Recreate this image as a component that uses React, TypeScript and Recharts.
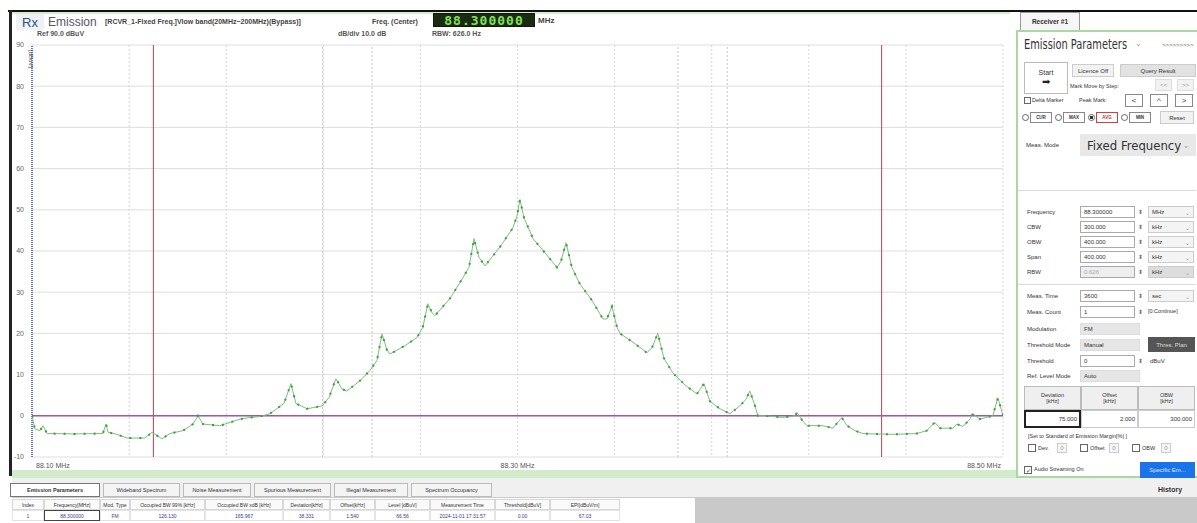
import React from "react";
import {
  LineChart,
  Line,
  XAxis,
  YAxis,
  CartesianGrid,
  ReferenceLine,
} from "recharts";

// trace: frequency [MHz] and level [dBuV]
const freqMHz = [
  88.1, 88.1012, 88.1033, 88.1045, 88.1062, 88.1177, 88.1292, 88.1305, 88.1313, 88.135,
  88.1391, 88.1465, 88.1494, 88.1515, 88.1535, 88.1568, 88.1622, 88.1663, 88.1684, 88.1704,
  88.1774, 88.1816, 88.1857, 88.1898, 88.1939, 88.198, 88.2038, 88.2067, 88.2087, 88.2133,
  88.2195, 88.2224, 88.2252, 88.2277, 88.2297, 88.2351, 88.2392, 88.2421, 88.2442, 88.2462,
  88.2475, 88.2536, 88.2586, 88.261, 88.2631, 88.2648, 88.266, 88.2722, 88.2775, 88.28,
  88.2821, 88.2841, 88.2866, 88.2928, 88.2981, 88.2998, 88.301, 88.3027, 88.3064, 88.3114,
  88.3163, 88.3179, 88.32, 88.3224, 88.3257, 88.3307, 88.3352, 88.3368, 88.3389, 88.341,
  88.3422, 88.3484, 88.3533, 88.3554, 88.3578, 88.3603, 88.364, 88.369, 88.3739, 88.3768,
  88.3793, 88.3834, 88.3875, 88.3916, 88.3941, 88.3957, 88.3978, 88.399, 88.4019, 88.4093,
  88.4143, 88.4151, 88.4172, 88.4192, 88.4258, 88.4299, 88.4336, 88.4357, 88.439, 88.4423,
  88.446, 88.4555, 88.4645, 88.4686, 88.4719, 88.474, 88.4794, 88.481, 88.4835, 88.4864,
  88.4876, 88.4905, 88.4958, 88.4979, 88.5,
];
const levelDbuv = [
  0, -3.2, -3.6, -2.4, -4.3, -4.4, -4.3, -2.0, -4.0, -4.5,
  -5.4, -5.4, -4.0, -4.8, -5.6, -4.3, -3.6, -2.0, 0.0, -2.0,
  -2.4, -1.6, -0.8, -0.4, -0.2, 0.5, 3.0, 7.8, 3.0, 1.7,
  2.4, 4.5, 9.0, 6.5, 6.0, 8.5, 11.0, 13.4, 19.9, 16.0,
  15.0, 17.0, 19.0, 21.5, 27.2, 25.0, 24.3, 28.5, 33.5, 36.0,
  43.0, 38.5, 36.4, 41.0, 45.6, 48.5, 52.5, 48.0, 43.0, 39.5,
  36.0, 37.5, 42.0, 36.0, 32.0, 28.0, 23.5, 23.5, 26.5, 21.5,
  20.0, 17.5, 15.3, 16.5, 20.0, 14.0, 10.4, 7.5, 5.3, 7.8,
  3.5, 1.7, 0.5, 2.4, 4.0, 6.0, 2.5, 0.0, 0.0, -0.4,
  0.0, 0.8, -1.0, -2.4, -2.4, -3.0, -0.4, -2.4, -3.6, -4.3,
  -4.4, -4.5, -4.3, -3.6, -1.6, -3.0, -3.0, -2.0, -2.6, -0.8,
  0.5, -0.8, 0.0, 4.4, 0.0,
];

const gridFreqs = [88.1, 88.14, 88.18, 88.22, 88.26, 88.3, 88.34, 88.38, 88.42, 88.46, 88.5];
const labelFreqs = [88.1, 88.3, 88.5];
const levelTicks = [-10, 0, 10, 20, 30, 40, 50, 60, 70, 80, 90];
const obwLimits = [88.15, 88.45];
const bwMarkers = [88.2197, 88.2401, 88.3661, 88.3864];
const thresholdLevel = 0;

const tabNames = [
  "Emission Parameters",
  "Wideband Spectrum",
  "Noise Measurement",
  "Spurious Measurement",
  "Illegal Measurement",
  "Spectrum Occupancy",
];
const tableHeads = [
  "Index", "Frequency[MHz]", "Mod. Type", "Occupied BW 99% [kHz]", "Occupied BW xdB [kHz]",
  "Deviation[kHz]", "Offset[kHz]", "Level [dBuV]", "Measurement Time", "Threshold[dBuV]", "EPI[dBuV/m]",
];
const tableRow = [
  "1", "88.300000", "FM", "126.130", "165.967", "38.331", "1.540", "66.56",
  "2024-11-01 17:31:57", "0.00", "67.03",
];

const data = freqMHz.map((f, i) => ({ f, level: levelDbuv[i] }));

const ui = "'Liberation Sans', Arial, sans-serif";
const cond = "'DejaVu Sans Condensed', 'Liberation Sans Narrow', sans-serif";

function FreqTick(props: any) {
  const { x, y, payload } = props;
  const v = payload.value;
  if (!labelFreqs.some((l) => Math.abs(l - v) < 1e-6)) return null;
  const anchor = v < 88.2 ? "start" : v > 88.4 ? "end" : "middle";
  const dx = v < 88.2 ? 4 : v > 88.4 ? -2 : 0;
  return (
    <text x={x + dx} y={y + 3} textAnchor={anchor} fontSize={7} fill="#555" fontFamily={ui}>
      {v.toFixed(2)} MHz
    </text>
  );
}

const T = ({ x, y, s = 7, c = "#333", b = false, f = ui, st, children }: any) => (
  <div
    style={{
      position: "absolute", left: x, top: y, fontSize: s, color: c,
      fontWeight: b ? "bold" : "normal", fontFamily: f, whiteSpace: "nowrap", lineHeight: 1, ...st,
    }}
  >
    {children}
  </div>
);

const Box = ({ x, y, w, h, bg = "#fff", bd = "#aaa", children, st }: any) => (
  <div
    style={{
      position: "absolute", left: x, top: y, width: w, height: h, background: bg,
      border: `1px solid ${bd}`, boxSizing: "border-box", fontFamily: ui, fontSize: 6,
      color: "#333", display: "flex", alignItems: "center", justifyContent: "center",
      overflow: "hidden", whiteSpace: "nowrap", ...st,
    }}
  >
    {children}
  </div>
);

function FieldRow({ y, label, value, unit, disabled }: any) {
  return (
    <>
      <T x={1027} y={y - 3} s={6}>{label}</T>
      <Box x={1080} y={y - 6} w={55} h={12} bg={disabled ? "#eee" : "#fff"} st={{ justifyContent: "flex-start", paddingLeft: 3, color: disabled ? "#aaa" : "#333" }}>
        {value}
      </Box>
      <T x={1138} y={y - 3} s={6} c="#777">⬍</T>
      {unit && (
        <Box x={1148} y={y - 6} w={46} h={12} bg={disabled ? "#ddd" : "#f4f4f4"} bd="#ccc" st={{ justifyContent: "space-between", padding: "0 3px" }}>
          <span>{unit}</span><span style={{ color: "#999" }}>⌄</span>
        </Box>
      )}
    </>
  );
}

export default function App() {
  let tx = 10;
  return (
    <div style={{ position: "absolute", left: 0, top: 0, width: 1197, height: 523, overflow: "hidden", background: "#fff", fontFamily: ui }}>
      {/* window frame */}
      <div style={{ position: "absolute", left: 8, top: 10, width: 1189, height: 2, background: "#111" }} />
      <div style={{ position: "absolute", left: 9, top: 10, width: 3, height: 466, background: "#222" }} />
      <div style={{ position: "absolute", left: 12, top: 12, width: 998, height: 2, background: "#d6ecd0" }} />
      <div style={{ position: "absolute", left: 12, top: 470, width: 1185, height: 8, background: "#d2ebcb" }} />

      {/* chart header */}
      <Box x={16} y={14} w={28} h={16} bg="#eef2f4" bd="#eef2f4" st={{ fontSize: 13, color: "#2f4f80" }}>Rx</Box>
      <T x={48} y={16} s={12} c="#556">Emission</T>
      <T x={105} y={18} s={7} b c="#444">[RCVR_1-Fixed Freq.]Vlow band(20MHz~200MHz)(Bypass)]</T>
      <T x={372} y={18} s={7} b c="#444">Freq. (Center)</T>
      <Box x={433} y={13} w={102} h={14} bg="#1b2b12" bd="#0d1a08" st={{ fontSize: 13, fontWeight: "bold", color: "#7ee05a", fontFamily: "'DejaVu Sans Mono', monospace", letterSpacing: 1 }}>
        88.300000
      </Box>
      <T x={538} y={17} s={8} b c="#444">MHz</T>
      <T x={37} y={30} s={7} b c="#555">Ref 90.0 dBuV</T>
      <T x={338} y={30} s={7} b c="#555">dB/div 10.0 dB</T>
      <T x={432} y={30} s={7} b c="#555">RBW: 626.0 Hz</T>

      {/* spectrum */}
      <div style={{ position: "absolute", left: 0, top: 35 }}>
        <LineChart width={1010} height={445} data={data} margin={{ top: 10, right: 7, bottom: 0, left: 10 }}>
          <CartesianGrid horizontal vertical={false} stroke="#dedede" />
          <CartesianGrid horizontal={false} vertical stroke="#d4d4d4" strokeDasharray="2 2" />
          <XAxis
            type="number"
            dataKey="f"
            domain={[88.1, 88.5]}
            ticks={gridFreqs}
            interval={0}
            allowDataOverflow
            tick={<FreqTick />}
            tickLine={false}
            axisLine={false}
            height={23}
          />
          <YAxis
            type="number"
            domain={[-10, 90]}
            ticks={levelTicks}
            interval={0}
            width={22}
            tick={{ fontSize: 7, fill: "#666", fontFamily: ui }}
            tickLine={false}
            axisLine={false}
          />
          {bwMarkers.map((f) => (
            <ReferenceLine key={f} x={f} stroke="#c4c4c4" strokeDasharray="2 2" />
          ))}
          {obwLimits.map((f) => (
            <ReferenceLine key={f} x={f} stroke="#b8404c" strokeWidth={1} />
          ))}
          <ReferenceLine x={88.1} stroke="#3050c8" strokeDasharray="1 1" strokeWidth={1.5} />
          <ReferenceLine y={thresholdLevel} stroke="#9c5aa6" strokeWidth={1.5} />
          <Line type="linear" dataKey="level" stroke="#86b886" strokeWidth={1} dot={false} isAnimationActive={false} />
          <Line type="linear" dataKey="level" stroke="#2ea82e" strokeWidth={2} strokeDasharray="2 8" dot={false} isAnimationActive={false} />
        </LineChart>
      </div>
      <div style={{ position: "absolute", left: 34, top: 50, fontSize: 6, color: "#444", transform: "rotate(90deg)", transformOrigin: "left top", fontFamily: ui }}>
        [dBuV]
      </div>

      {/* bottom tabs */}
      <div style={{ position: "absolute", left: 12, top: 478, width: 1185, height: 19, background: "#f0f0f0" }} />
      {tabNames.map((n, i) => {
        const w = [90, 77, 68, 77, 74, 81][i];
        const el = (
          <Box key={n} x={tx} y={483} w={w} h={14} bg={i === 0 ? "#fff" : "#f4f4f4"} bd={i === 0 ? "#777" : "#bbb"} st={{ fontSize: 5.5, fontWeight: i === 0 ? "bold" : "normal" }}>
            {n}
          </Box>
        );
        tx += w + 3;
        return el;
      })}
      <Box x={1150} y={481} w={40} h={16} bg="#f0f0f0" bd="#f0f0f0" st={{ fontSize: 7, fontWeight: "bold" }}>History</Box>
      <div style={{ position: "absolute", left: 695, top: 497, width: 502, height: 26, background: "#c9c9c9" }} />
      <div style={{ position: "absolute", left: 12, top: 497, width: 683, height: 26, background: "#fff", borderTop: "1px solid #ccc" }} />
      {tableHeads.map((h, i) => {
        const xs = [12, 44, 100, 130, 205, 283, 330, 375, 430, 495, 550, 620];
        return (
          <React.Fragment key={h}>
            <Box x={xs[i]} y={499} w={xs[i + 1] - xs[i]} h={11} bg="#fafafa" bd="#d8d8d8" st={{ fontSize: 5 }}>{h}</Box>
            <Box x={xs[i]} y={510} w={xs[i + 1] - xs[i]} h={11} bg="#fff" bd={i === 1 ? "#444" : "#e4e4e4"} st={{ fontSize: 5, color: "#3a3a8a" }}>{tableRow[i]}</Box>
          </React.Fragment>
        );
      })}

      {/* right control panel */}
      <Box x={1020} y={12} w={60} h={18} bg="#f6f6f6" bd="#999" st={{ fontSize: 6.5, fontWeight: "bold", borderBottom: "none" }}>Receiver #1</Box>
      <div style={{ position: "absolute", left: 1016, top: 30, width: 190, height: 448, border: "2px solid #a9d8a0", boxSizing: "border-box", background: "#fff" }} />
      <T x={1024} y={37} s={14} f={cond} c="#333" st={{ transform: "scaleX(0.78)", transformOrigin: "left top" }}>Emission Parameters</T>
      <T x={1135} y={40} s={8} c="#999">⌄</T>
      <T x={1162} y={42} s={6} c="#666">&gt;&gt;&gt;&gt;&gt;&gt;&gt;&gt;&gt;</T>
      <Box x={1024} y={62} w={44} h={32} bd="#bbb" st={{ flexDirection: "column", fontSize: 7 }}>
        <span>Start</span><span style={{ fontSize: 10, color: "#222" }}>➡</span>
      </Box>
      <Box x={1072} y={64} w={42} h={13} bg="#f2f2f2" bd="#ccc">Licence Off</Box>
      <Box x={1120} y={64} w={76} h={13} bg="#e2e2e2" bd="#ccc">Query Result</Box>
      <T x={1070} y={84} s={5.5}>Mark Move by Step:</T>
      <Box x={1155} y={79} w={17} h={12} bg="#f2f2f2" bd="#ddd" st={{ color: "#999" }}>&lt;&lt;</Box>
      <Box x={1177} y={79} w={17} h={12} bg="#f2f2f2" bd="#ddd" st={{ color: "#999" }}>&gt;&gt;</Box>
      <Box x={1024} y={97} w={7} h={7} bd="#666" />
      <T x={1032} y={98} s={5.5}>Delta Marker</T>
      <T x={1079} y={98} s={5.5}>Peak Mark:</T>
      <Box x={1125} y={94} w={18} h={13} bd="#888" st={{ fontSize: 8 }}>&lt;</Box>
      <Box x={1150} y={94} w={18} h={13} bd="#888" st={{ fontSize: 8 }}>^</Box>
      <Box x={1175} y={94} w={18} h={13} bd="#888" st={{ fontSize: 8 }}>&gt;</Box>
      {["CUR", "MAX", "AVG", "MIN"].map((m, i) => (
        <React.Fragment key={m}>
          <Box x={1022 + i * 33} y={114} w={7} h={7} bd="#666" st={{ borderRadius: 4, background: i === 2 ? "radial-gradient(#333 40%, #fff 45%)" : "#fff" }} />
          <Box x={1030 + i * 33} y={112} w={22} h={11} bd={i === 2 ? "#d04040" : "#888"} st={{ fontSize: 4.5, fontWeight: "bold", color: i === 2 ? "#c33" : "#333" }}>{m}</Box>
        </React.Fragment>
      ))}
      <Box x={1160} y={111} w={34} h={13} bg="#f2f2f2" bd="#ccc">Reset</Box>
      <T x={1026} y={142} s={6}>Meas. Mode</T>
      <Box x={1080} y={134} w={116} h={22} bg="#e8e8e8" bd="#e8e8e8" st={{ justifyContent: "space-between", padding: "0 6px", fontSize: 13, fontFamily: cond }}>
        <span>Fixed Frequency</span><span style={{ fontSize: 8, color: "#999" }}>⌄</span>
      </Box>
      <div style={{ position: "absolute", left: 1018, top: 190, width: 178, height: 1, background: "#ddd" }} />
      <FieldRow y={212} label="Frequency" value="88.300000" unit="MHz" />
      <FieldRow y={227} label="CBW" value="300.000" unit="kHz" />
      <FieldRow y={242} label="OBW" value="400.000" unit="kHz" />
      <FieldRow y={257} label="Span" value="400.000" unit="kHz" />
      <FieldRow y={272} label="RBW" value="0.626" unit="kHz" disabled />
      <div style={{ position: "absolute", left: 1018, top: 284, width: 178, height: 1, background: "#ddd" }} />
      <FieldRow y={296} label="Meas. Time" value="3600" unit="sec" />
      <FieldRow y={312} label="Meas. Count" value="1" />
      <T x={1148} y={309} s={5.5}>[0:Continue]</T>
      <Box x={1080} y={323} w={60} h={12} bg="#e6e6e6" bd="#ddd" st={{ justifyContent: "flex-start", paddingLeft: 3 }}>FM</Box>
      <T x={1027} y={326} s={6}>Modulation</T>
      <T x={1027} y={342} s={6}>Threshold Mode</T>
      <Box x={1080} y={339} w={60} h={12} bg="#e6e6e6" bd="#ddd" st={{ justifyContent: "flex-start", paddingLeft: 3 }}>Manual</Box>
      <Box x={1148} y={337} w={47} h={15} bg="#555" bd="#555" st={{ color: "#ddd" }}>Thres. Plan</Box>
      <FieldRow y={361} label="Threshold" value="0" />
      <T x={1150} y={358} s={6}>dBuV</T>
      <T x={1027} y={373} s={6}>Ref. Level Mode</T>
      <Box x={1080} y={370} w={60} h={12} bg="#e6e6e6" bd="#ddd" st={{ justifyContent: "flex-start", paddingLeft: 3 }}>Auto</Box>
      {["Deviation\n[kHz]", "Offset\n[kHz]", "OBW\n[kHz]"].map((h, i) => (
        <Box key={h} x={1024 + i * 57} y={386} w={57} h={24} bg="#efefef" bd="#bbb" st={{ whiteSpace: "pre", textAlign: "center", fontSize: 5.5 }}>{h}</Box>
      ))}
      {["75.000", "2.000", "300.000"].map((v, i) => (
        <Box key={v} x={1024 + i * 57} y={410} w={57} h={18} bd={i === 0 ? "#222" : "#ccc"} st={{ justifyContent: "flex-end", paddingRight: 2, fontSize: 6, borderWidth: i === 0 ? 2 : 1 }}>{v}</Box>
      ))}
      <T x={1028} y={434} s={5.5}>[Set to Standard of Emission Margin[%] ]</T>
      {["Dev.", "Offset", "OBW"].map((c, i) => (
        <React.Fragment key={c}>
          <Box x={1028 + i * 52} y={444} w={8} h={8} bd="#666" />
          <T x={1038 + i * 52} y={446} s={5.5}>{c}</T>
          <Box x={1057 + i * 52} y={443} w={10} h={10} bd="#ccc" bg="#f6f6f6" st={{ color: "#999" }}>0</Box>
        </React.Fragment>
      ))}
      <Box x={1024} y={466} w={8} h={8} bd="#666" st={{ fontSize: 6 }}>✓</Box>
      <T x={1034} y={467} s={5.5}>Audio Streaming On</T>
      <Box x={1140} y={462} w={55} h={16} bg="#1a73e8" bd="#1a73e8" st={{ color: "#dfe9ff" }}>Specific Em...</Box>
    </div>
  );
}
